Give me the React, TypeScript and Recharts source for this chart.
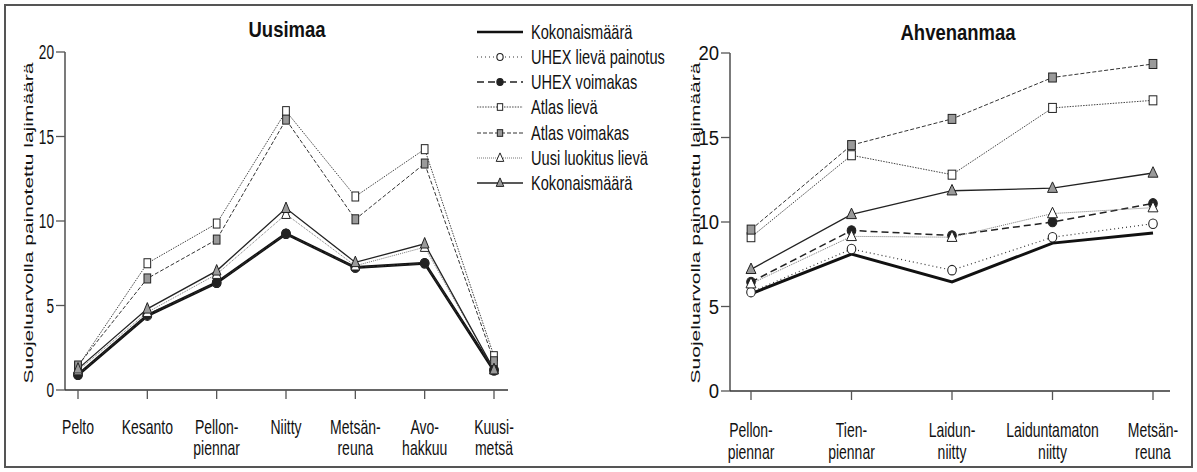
import React from 'react';
import { Line, LineChart, XAxis, YAxis } from 'recharts';

// Uusimaa habitat types and conservation-weighted species counts
const uusimaaCats = ['Pelto', 'Kesanto', 'Pellon-\npiennar', 'Niitty', 'Metsän-\nreuna', 'Avo-\nhakkuu', 'Kuusi-\nmetsä'];
const uusimaaTotal = [0.9, 4.4, 6.35, 9.25, 7.25, 7.5, 1.15];
const uusimaaUhexMild = [0.9, 4.4, 6.35, 9.25, 7.25, 7.5, 1.15];
const uusimaaUhexStrong = [0.9, 4.45, 6.35, 9.25, 7.25, 7.5, 1.2];
const uusimaaAtlasMild = [1.4, 7.5, 9.85, 16.5, 11.45, 14.25, 2.0];
const uusimaaAtlasStrong = [1.45, 6.6, 8.9, 16.0, 10.1, 13.4, 1.7];
const uusimaaNewMild = [1.15, 4.6, 6.85, 10.4, 7.35, 8.45, 1.2];
const uusimaaTotalTri = [1.25, 4.8, 7.05, 10.75, 7.55, 8.65, 1.2];

// Ahvenanmaa
const ahvenanmaaCats = ['Pellon-\npiennar', 'Tien-\npiennar', 'Laidun-\nniitty', 'Laiduntamaton\nniitty', 'Metsän-\nreuna'];
const ahvenanmaaTotal = [5.75, 8.1, 6.45, 8.75, 9.35];
const ahvenanmaaUhexMild = [5.85, 8.4, 7.15, 9.1, 9.9];
const ahvenanmaaUhexStrong = [6.45, 9.5, 9.2, 10.0, 11.1];
const ahvenanmaaAtlasMild = [9.1, 13.95, 12.8, 16.75, 17.2];
const ahvenanmaaAtlasStrong = [9.55, 14.55, 16.1, 18.55, 19.35];
const ahvenanmaaNewMild = [6.35, 9.15, 9.1, 10.5, 10.85];
const ahvenanmaaTotalTri = [7.2, 10.45, 11.85, 12.0, 12.9];

const yTicks = [0, 5, 10, 15, 20];

const FONT = '"Liberation Sans", Arial, sans-serif';
const GREY = '#9a9a9a';

type Marker = 'none' | 'circleOpen' | 'circleFilled' | 'squareOpen' | 'squareFilled' | 'triOpen' | 'triFilled';

interface SeriesDef {
  key: string;
  name: string;
  width: number;
  dash?: string;
  color: string;
  marker: Marker;
}

// legend order
const SERIES: SeriesDef[] = [
  { key: 'total', name: 'Kokonaismäärä', width: 3, color: '#111', marker: 'none' },
  { key: 'uhexMild', name: 'UHEX lievä painotus', width: 1.2, dash: '1 3', color: '#333', marker: 'circleOpen' },
  { key: 'uhexStrong', name: 'UHEX voimakas', width: 1.5, dash: '7 4', color: '#222', marker: 'circleFilled' },
  { key: 'atlasMild', name: 'Atlas lievä', width: 1, dash: '1.5 1.2', color: '#444', marker: 'squareOpen' },
  { key: 'atlasStrong', name: 'Atlas voimakas', width: 1, dash: '4 2', color: '#333', marker: 'squareFilled' },
  { key: 'newMild', name: 'Uusi luokitus lievä', width: 1, dash: '1 1', color: '#777', marker: 'triOpen' },
  { key: 'totalTri', name: 'Kokonaismäärä', width: 1.3, color: '#222', marker: 'triFilled' },
];

// draw order (later on top)
const DRAW_ORDER = ['atlasMild', 'atlasStrong', 'total', 'uhexMild', 'uhexStrong', 'newMild', 'totalTri'];

function build(cats: string[], cols: Record<string, number[]>) {
  return cats.map((cat, i) => {
    const row: Record<string, string | number> = { cat };
    Object.keys(cols).forEach((k) => {
      row[k] = cols[k][i];
    });
    return row;
  });
}

const uusimaaData = build(uusimaaCats, {
  total: uusimaaTotal,
  uhexMild: uusimaaUhexMild,
  uhexStrong: uusimaaUhexStrong,
  atlasMild: uusimaaAtlasMild,
  atlasStrong: uusimaaAtlasStrong,
  newMild: uusimaaNewMild,
  totalTri: uusimaaTotalTri,
});

const ahvenanmaaData = build(ahvenanmaaCats, {
  total: ahvenanmaaTotal,
  uhexMild: ahvenanmaaUhexMild,
  uhexStrong: ahvenanmaaUhexStrong,
  atlasMild: ahvenanmaaAtlasMild,
  atlasStrong: ahvenanmaaAtlasStrong,
  newMild: ahvenanmaaNewMild,
  totalTri: ahvenanmaaTotalTri,
});

function MarkerShape({ cx, cy, type, sx, size }: { cx: number; cy: number; type: Marker; sx: number; size: number }) {
  const s = size;
  if (type === 'none') return null;
  if (type === 'circleOpen' || type === 'circleFilled') {
    return (
      <ellipse
        cx={cx}
        cy={cy}
        rx={s * 0.5 * Math.max(sx, 0.9)}
        ry={s * 0.5}
        fill={type === 'circleFilled' ? '#222' : '#fff'}
        stroke="#222"
        strokeWidth={1.1}
      />
    );
  }
  if (type === 'squareOpen' || type === 'squareFilled') {
    const w = s * 0.9 * sx;
    const h = s * 0.95;
    return (
      <rect
        x={cx - w / 2}
        y={cy - h / 2}
        width={w}
        height={h}
        fill={type === 'squareFilled' ? GREY : '#fff'}
        stroke="#222"
        strokeWidth={1}
      />
    );
  }
  const w = s * 1.05 * sx;
  const h = s;
  const pts = `${cx},${cy - h * 0.6} ${cx + w / 2},${cy + h * 0.4} ${cx - w / 2},${cy + h * 0.4}`;
  return <polygon points={pts} fill={type === 'triFilled' ? GREY : '#fff'} stroke="#222" strokeWidth={1} />;
}

function dotFor(def: SeriesDef, sx: number, size: number) {
  if (def.marker === 'none') return false;
  return (p: any) => {
    const k = `${def.key}-${p.index}`;
    if (p.cx == null || p.cy == null) return <g key={k} />;
    return (
      <g key={k}>
        <MarkerShape cx={p.cx} cy={p.cy} type={def.marker} sx={sx} size={size} />
      </g>
    );
  };
}

function CatTick(props: any) {
  const { x, y, payload, base, gap } = props;
  const lines = String(payload.value).split('\n');
  return (
    <g>
      {lines.map((line: string, i: number) => (
        <text
          key={i}
          transform={`translate(${x},${y + base + i * gap}) scale(0.7,1)`}
          textAnchor="middle"
          fontSize={20}
          fontFamily={FONT}
          fill="#111"
        >
          {line}
        </text>
      ))}
    </g>
  );
}

function ValTick(props: any) {
  const { x, y, payload, sx } = props;
  return (
    <text
      transform={`translate(${x},${y + 7}) scale(${sx},1)`}
      textAnchor="end"
      fontSize={19.5}
      fontFamily={FONT}
      fill="#111"
    >
      {payload.value}
    </text>
  );
}

interface PanelProps {
  data: Record<string, string | number>[];
  width: number;
  top: number;
  right: number;
  xHeight: number;
  padL: number;
  padR: number;
  yLabelScale: number;
  markerSx: number;
  base: number;
  gap: number;
}

function Panel({ data, width, top, right, xHeight, padL, padR, yLabelScale, markerSx, base, gap }: PanelProps) {
  const ordered = DRAW_ORDER.map((k) => SERIES.find((s) => s.key === k)!);
  return (
    <LineChart width={width} height={472} data={data} margin={{ top, right, bottom: 0, left: 0 }}>
      <XAxis
        dataKey="cat"
        interval={0}
        height={xHeight}
        padding={{ left: padL, right: padR }}
        stroke="#333"
        strokeWidth={1.3}
        tickSize={9}
        tickMargin={2}
        tickLine={{ stroke: '#555' }}
        tick={<CatTick base={base} gap={gap} />}
      />
      <YAxis
        type="number"
        domain={[0, 20]}
        ticks={yTicks}
        width={65}
        stroke="#333"
        strokeWidth={1.3}
        tickSize={9}
        tickMargin={2}
        tickLine={{ stroke: '#555' }}
        tick={<ValTick sx={yLabelScale} />}
      />
      {ordered.map((s) => (
        <Line
          key={s.key}
          type="linear"
          dataKey={s.key}
          name={s.name}
          stroke={s.color}
          strokeWidth={s.width}
          strokeDasharray={s.dash}
          dot={dotFor(s, markerSx, s.marker.startsWith('tri') ? 10.5 : 9.5)}
          activeDot={false}
          isAnimationActive={false}
        />
      ))}
    </LineChart>
  );
}

function YLabel({ x, y }: { x: number; y: number }) {
  return (
    <text
      transform={`translate(${x},${y}) scale(0.65,1) rotate(-90)`}
      textAnchor="middle"
      fontSize={21}
      fontFamily={FONT}
      fill="#111"
    >
      Suojeluarvolla painotettu lajimäärä
    </text>
  );
}

function LegendBlock() {
  const rows = [32, 57, 82, 107, 133, 158, 183];
  return (
    <g>
      {SERIES.map((s, i) => {
        const y = rows[i];
        return (
          <g key={s.key + i}>
            <line
              x1={477}
              x2={523}
              y1={y}
              y2={y}
              stroke={s.color}
              strokeWidth={s.key === 'total' ? 2.5 : s.width}
              strokeDasharray={s.dash}
            />
            <MarkerShape cx={500} cy={y} type={s.marker} sx={0.85} size={s.marker.startsWith('tri') ? 8.5 : 7} />
            <text
              transform={`translate(531,${y + 7}) scale(0.73,1)`}
              fontSize={20}
              fontFamily={FONT}
              fill="#111"
            >
              {s.name}
            </text>
          </g>
        );
      })}
    </g>
  );
}

export default function App() {
  return (
    <div style={{ position: 'absolute', left: 0, top: 0, width: 1197, height: 472, background: '#fff', overflow: 'hidden' }}>
      <div style={{ position: 'absolute', left: 0, top: 0 }}>
        <Panel
          data={uusimaaData}
          width={520}
          top={52}
          right={12}
          xHeight={82}
          padL={13}
          padR={14}
          yLabelScale={0.7}
          markerSx={0.78}
          base={33}
          gap={21}
        />
      </div>
      <div style={{ position: 'absolute', left: 665, top: 0 }}>
        <Panel
          data={ahvenanmaaData}
          width={532}
          top={53}
          right={27}
          xHeight={81}
          padL={21}
          padR={17}
          yLabelScale={0.95}
          markerSx={0.9}
          base={35}
          gap={22}
        />
      </div>
      <svg
        width={1197}
        height={472}
        style={{ position: 'absolute', left: 0, top: 0, pointerEvents: 'none' }}
      >
        <rect x={5} y={5} width={1187} height={462} fill="none" stroke="#555" strokeWidth={2} />
        <text
          transform="translate(287,37) scale(0.84,1)"
          textAnchor="middle"
          fontSize={22}
          fontWeight="bold"
          fontFamily={FONT}
          fill="#111"
        >
          Uusimaa
        </text>
        <text
          transform="translate(958,40) scale(0.84,1)"
          textAnchor="middle"
          fontSize={22}
          fontWeight="bold"
          fontFamily={FONT}
          fill="#111"
        >
          Ahvenanmaa
        </text>
        <YLabel x={33} y={223} />
        <YLabel x={700} y={223} />
        <LegendBlock />
      </svg>
    </div>
  );
}
